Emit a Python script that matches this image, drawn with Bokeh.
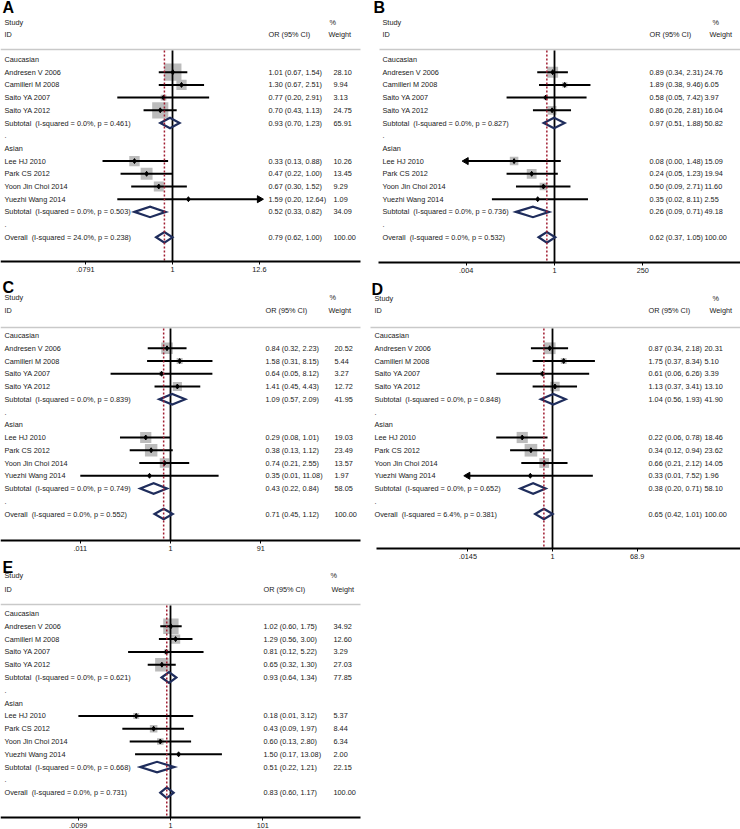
import math
from bokeh.plotting import figure
from bokeh.models import Range1d, LogScale, LogAxis, FixedTicker
from bokeh.embed import file_html
from bokeh.resources import INLINE
from bokeh.core.properties import value

FONT = "Liberation Sans"

studies = ["Andresen V 2006", "Camilleri M 2008", "Saito YA 2007", "Saito YA 2012",
           "Lee HJ 2010", "Park CS 2012", "Yoon Jin Choi 2014", "Yuezhi Wang 2014"]
group_names = ["Caucasian", "Asian"]

# ---------------- Panel A ----------------
a_or = [1.01, 1.30, 0.77, 0.70, 0.33, 0.47, 0.67, 1.59]
a_lo = [0.67, 0.67, 0.20, 0.43, 0.13, 0.22, 0.30, 0.20]
a_hi = [1.54, 2.51, 2.91, 1.13, 0.88, 1.00, 1.52, 12.64]
a_w = [28.10, 9.94, 3.13, 24.75, 10.26, 13.45, 9.29, 1.09]
a_sub_or = [0.93, 0.52]
a_sub_lo = [0.70, 0.33]
a_sub_hi = [1.23, 0.82]
a_sub_w = [65.91, 34.09]
a_sub_i2 = ["0.0%", "0.0%"]
a_sub_p = ["0.461", "0.503"]
a_all = [0.79, 0.62, 1.00]
a_all_i2 = "24.0%"
a_all_p = "0.238"
a_ticks = [0.0791, 1, 12.6]
a_tick_labels = [".0791", "1", "12.6"]
a_arrows = ["", "", "", "", "", "", "", "right"]

# ---------------- Panel B ----------------
b_or = [0.89, 1.89, 0.58, 0.86, 0.08, 0.24, 0.50, 0.35]
b_lo = [0.34, 0.38, 0.05, 0.26, 0.00, 0.05, 0.09, 0.02]
b_hi = [2.31, 9.46, 7.42, 2.81, 1.48, 1.23, 2.71, 8.11]
b_w = [24.76, 6.05, 3.97, 16.04, 15.09, 19.94, 11.60, 2.55]
b_sub_or = [0.97, 0.26]
b_sub_lo = [0.51, 0.09]
b_sub_hi = [1.88, 0.71]
b_sub_w = [50.82, 49.18]
b_sub_i2 = ["0.0%", "0.0%"]
b_sub_p = ["0.827", "0.736"]
b_all = [0.62, 0.37, 1.05]
b_all_i2 = "0.0%"
b_all_p = "0.532"
b_ticks = [0.004, 1, 250]
b_tick_labels = [".004", "1", "250"]
b_arrows = ["", "", "", "", "left", "", "", ""]

# ---------------- Panel C ----------------
c_or = [0.84, 1.58, 0.64, 1.41, 0.29, 0.38, 0.74, 0.35]
c_lo = [0.32, 0.31, 0.05, 0.45, 0.08, 0.13, 0.21, 0.01]
c_hi = [2.23, 8.15, 8.12, 4.43, 1.01, 1.12, 2.55, 11.08]
c_w = [20.52, 5.44, 3.27, 12.72, 19.03, 23.49, 13.57, 1.97]
c_sub_or = [1.09, 0.43]
c_sub_lo = [0.57, 0.22]
c_sub_hi = [2.09, 0.84]
c_sub_w = [41.95, 58.05]
c_sub_i2 = ["0.0%", "0.0%"]
c_sub_p = ["0.839", "0.749"]
c_all = [0.71, 0.45, 1.12]
c_all_i2 = "0.0%"
c_all_p = "0.552"
c_ticks = [0.011, 1, 91]
c_tick_labels = [".011", "1", "91"]
c_arrows = ["", "", "", "", "", "", "", ""]

# ---------------- Panel D ----------------
d_or = [0.87, 1.75, 0.61, 1.13, 0.22, 0.34, 0.66, 0.33]
d_lo = [0.34, 0.37, 0.06, 0.37, 0.06, 0.12, 0.21, 0.01]
d_hi = [2.18, 8.34, 6.26, 3.41, 0.78, 0.94, 2.12, 7.52]
d_w = [20.31, 5.10, 3.39, 13.10, 18.46, 23.62, 14.05, 1.96]
d_sub_or = [1.04, 0.38]
d_sub_lo = [0.56, 0.20]
d_sub_hi = [1.93, 0.71]
d_sub_w = [41.90, 58.10]
d_sub_i2 = ["0.0%", "0.0%"]
d_sub_p = ["0.848", "0.652"]
d_all = [0.65, 0.42, 1.01]
d_all_i2 = "6.4%"
d_all_p = "0.381"
d_ticks = [0.0145, 1, 68.9]
d_tick_labels = [".0145", "1", "68.9"]
d_arrows = ["", "", "", "", "", "", "", "left"]

# ---------------- Panel E ----------------
e_or = [1.02, 1.29, 0.81, 0.65, 0.18, 0.43, 0.60, 1.50]
e_lo = [0.60, 0.56, 0.12, 0.32, 0.01, 0.09, 0.13, 0.17]
e_hi = [1.75, 3.00, 5.22, 1.30, 3.12, 1.97, 2.80, 13.08]
e_w = [34.92, 12.60, 3.29, 27.03, 5.37, 8.44, 6.34, 2.00]
e_sub_or = [0.93, 0.51]
e_sub_lo = [0.64, 0.22]
e_sub_hi = [1.34, 1.21]
e_sub_w = [77.85, 22.15]
e_sub_i2 = ["0.0%", "0.0%"]
e_sub_p = ["0.621", "0.668"]
e_all = [0.83, 0.60, 1.17]
e_all_i2 = "0.0%"
e_all_p = "0.731"
e_ticks = [0.0099, 1, 101]
e_tick_labels = [".0099", "1", "101"]
e_arrows = ["", "", "", "", "", "", "", ""]

TXT = "#1a1a1a"
NAVY = "#1f2d5c"
RED = "#a01c30"
GREY_BOX = "#bcbcbc"
FS = "7.3px"
W, H = 740, 829

p = figure(width=W, height=H, x_range=Range1d(0, W), y_range=Range1d(H, 0),
           x_axis_location=None, y_axis_location=None, toolbar_location=None,
           output_backend="svg", min_border=0)
p.outline_line_color = None
p.grid.visible = False
p.background_fill_color = "white"
p.border_fill_color = "white"

xr = {}
xs_ = {}


def fmt_ci(o, l, h):
    return f"{o:.2f} ({l:.2f}, {h:.2f})"


def make_panel(name, orv, lo, hi, w, sub_or, sub_lo, sub_hi, sub_w, sub_i2, sub_p,
               allv, all_i2, all_p, ticks, tick_labels, arrows, g):
    fl, fr = g["frame"]
    axis_y = g["axis"]
    r0, step = g["r0"], g["step"]
    x1, k = g["x1"], g["k"]

    def ry(i):
        return r0 + i * step

    # log scale of this panel, expressed over the whole canvas width
    xr[name] = Range1d(math.exp((0 - x1) / k), math.exp((W - x1) / k))
    xs_[name] = LogScale()

    ax = LogAxis(x_range_name=name, fixed_location=axis_y,
                 bounds=(math.exp((fl - x1) / k), math.exp((fr - x1) / k)),
                 ticker=FixedTicker(ticks=ticks, minor_ticks=[]))
    ax.major_label_overrides = {t: l for t, l in zip(ticks, tick_labels)}
    ax.axis_line_color = "black"
    ax.axis_line_width = 2
    ax.major_tick_line_color = "black"
    ax.major_tick_line_width = 1
    ax.major_tick_in = 0
    ax.major_tick_out = 3
    ax.minor_tick_line_color = None
    ax.major_label_standoff = 2
    ax.major_label_text_font = FONT
    ax.major_label_text_font_size = FS
    ax.major_label_text_color = TXT
    p.add_layout(ax, "below")

    study_rows = [ry(i) for i in [1, 2, 3, 4, 8, 9, 10, 11]]
    sub_rows = [ry(5), ry(12)]
    all_row = ry(14)
    group_rows = [ry(0), ry(7)]
    dot_rows = [ry(6), ry(13)]
    line_top = g["gl"] + 1
    line_bot = axis_y

    # header grey rule
    p.segment(x0=[g["gx0"]], y0=[g["gl"]], x1=[fr], y1=[g["gl"]],
              line_color="#c9c9c9", line_width=1.6)

    # weight boxes
    p.scatter(x=orv, y=study_rows, marker="square",
              size=[g["box"] * math.sqrt(wi) for wi in w],
              fill_color=GREY_BOX, line_color=None, x_range_name=name)

    # null line
    p.segment(x0=[1], y0=[line_top], x1=[1], y1=[line_bot], line_color="black",
              line_width=1.8, x_range_name=name)

    # CI lines (clipped to axis range)
    lo_c = [max(v, ticks[0]) for v in lo]
    hi_c = [min(v, ticks[-1]) for v in hi]
    p.segment(x0=lo_c, y0=study_rows, x1=hi_c, y1=study_rows, line_color="black",
              line_width=2.0, x_range_name=name)

    # arrow heads
    ax_x, ax_y, ax_a = [], [], []
    for r, a in zip(study_rows, arrows):
        if a == "right":
            ax_x.append(ticks[-1]); ax_y.append(r); ax_a.append(-math.pi / 2)
        elif a == "left":
            ax_x.append(ticks[0]); ax_y.append(r); ax_a.append(math.pi / 2)
    if ax_x:
        p.scatter(x=ax_x, y=ax_y, angle=ax_a, marker="triangle", size=7,
                  fill_color="black", line_color="black", x_range_name=name)

    # point estimates
    p.scatter(x=orv, y=study_rows, marker="diamond", size=5,
              fill_color="black", line_color="black", x_range_name=name)

    # pooled diamonds
    d_est = list(sub_or) + [allv[0]]
    d_lo = list(sub_lo) + [allv[1]]
    d_hi = list(sub_hi) + [allv[2]]
    d_rows = sub_rows + [all_row]
    h = 5.3
    dxs = [[l, e, u, e, l] for e, l, u in zip(d_est, d_lo, d_hi)]
    dys = [[r, r - h, r, r + h, r] for r in d_rows]
    p.patches(xs=dxs, ys=dys, fill_color=None, line_color=NAVY, line_width=2.2,
              line_join="miter", x_range_name=name)

    # overall estimate dotted line
    p.segment(x0=[allv[0]], y0=[line_top], x1=[allv[0]], y1=[line_bot],
              line_color=RED, line_width=1.5, line_dash="2 2", x_range_name=name)

    # left column labels
    left_rows = group_rows + study_rows + sub_rows + dot_rows + [all_row]
    left_text = (list(group_names) + list(studies)
                 + [f"Subtotal\u00a0 (I-squared = {i2}, p = {pp})" for i2, pp in zip(sub_i2, sub_p)]
                 + [".", "."]
                 + [f"Overall\u00a0 (I-squared = {all_i2}, p = {all_p})"])
    p.text(x=[g["sx"]] * len(left_rows), y=left_rows, text=left_text,
           text_font=value(FONT), text_font_size=FS, text_color=TXT,
           text_baseline="middle", text_align="left")

    # OR and weight columns
    r_rows = study_rows + d_rows
    or_text = ([fmt_ci(o, l, u) for o, l, u in zip(orv, lo, hi)]
               + [fmt_ci(o, l, u) for o, l, u in zip(d_est, d_lo, d_hi)])
    w_text = [f"{v:.2f}" for v in list(w) + list(sub_w)] + ["100.00"]
    p.text(x=[g["orx"]] * len(r_rows), y=r_rows, text=or_text,
           text_font=value(FONT), text_font_size=FS, text_color=TXT,
           text_baseline="middle", text_align="left")
    p.text(x=[g["wx"]] * len(r_rows), y=r_rows, text=w_text,
           text_font=value(FONT), text_font_size=FS, text_color=TXT,
           text_baseline="middle", text_align="left")

    # headers
    p.text(x=[g["sx"], g["sx"], g["pctx"], g["wtx"], g["orx"]],
           y=[g["study_y"], g["id_y"], g["study_y"], g["id_y"], g["id_y"]],
           text=["Study", "ID", "%", "Weight", "OR (95% CI)"],
           text_font=value(FONT), text_font_size=FS, text_color=TXT,
           text_baseline="middle", text_align="left")

    # panel letter
    p.text(x=[g["lx"]], y=[g["ly"]], text=[name], text_font=value(FONT),
           text_font_size="16px", text_font_style="bold", text_color="black",
           text_baseline="middle", text_align="left")


geoA = dict(frame=(0, 360), axis=261, r0=59, step=12.7, x1=172, k=34.3, box=3.25,
            sx=4, orx=268, wx=333, pctx=329, wtx=328, lx=2, ly=7, gl=49, gx0=0,
            study_y=22, id_y=34)
geoB = dict(frame=(378, 740), axis=262, r0=59, step=12.7, x1=554, k=16, box=2.2,
            sx=382, orx=649, wx=704, pctx=712, wtx=709, lx=373, ly=7, gl=49, gx0=379,
            study_y=22, id_y=34)
geoC = dict(frame=(0, 360), axis=540, r0=335, step=12.75, x1=170, k=20, box=2.57,
            sx=4, orx=265, wx=334, pctx=329, wtx=328, lx=2, ly=287, gl=327, gx0=0,
            study_y=297, id_y=310)
geoD = dict(frame=(376, 740), axis=548, r0=335, step=12.75, x1=552, k=20, box=2.6,
            sx=374, orx=648, wx=704, pctx=712, wtx=709, lx=371, ly=289, gl=327, gx0=370,
            study_y=298, id_y=310)
geoE = dict(frame=(0, 360), axis=817, r0=613, step=12.8, x1=170, k=20, box=2.6,
            sx=4, orx=263, wx=333, pctx=330, wtx=331, lx=2, ly=567, gl=604, gx0=0,
            study_y=575, id_y=589)

make_panel("A", a_or, a_lo, a_hi, a_w, a_sub_or, a_sub_lo, a_sub_hi, a_sub_w, a_sub_i2,
           a_sub_p, a_all, a_all_i2, a_all_p, a_ticks, a_tick_labels, a_arrows, geoA)
make_panel("B", b_or, b_lo, b_hi, b_w, b_sub_or, b_sub_lo, b_sub_hi, b_sub_w, b_sub_i2,
           b_sub_p, b_all, b_all_i2, b_all_p, b_ticks, b_tick_labels, b_arrows, geoB)
make_panel("C", c_or, c_lo, c_hi, c_w, c_sub_or, c_sub_lo, c_sub_hi, c_sub_w, c_sub_i2,
           c_sub_p, c_all, c_all_i2, c_all_p, c_ticks, c_tick_labels, c_arrows, geoC)
make_panel("D", d_or, d_lo, d_hi, d_w, d_sub_or, d_sub_lo, d_sub_hi, d_sub_w, d_sub_i2,
           d_sub_p, d_all, d_all_i2, d_all_p, d_ticks, d_tick_labels, d_arrows, geoD)
make_panel("E", e_or, e_lo, e_hi, e_w, e_sub_or, e_sub_lo, e_sub_hi, e_sub_w, e_sub_i2,
           e_sub_p, e_all, e_all_i2, e_all_p, e_ticks, e_tick_labels, e_arrows, geoE)

p.extra_x_ranges = xr
p.extra_x_scales = xs_

html = file_html(p, INLINE, "Forest plots")
html = html.replace("<head>", "<head><style>html, body { overflow: hidden; }</style>", 1)
with open("out.html", "w") as f:
    f.write(html)
